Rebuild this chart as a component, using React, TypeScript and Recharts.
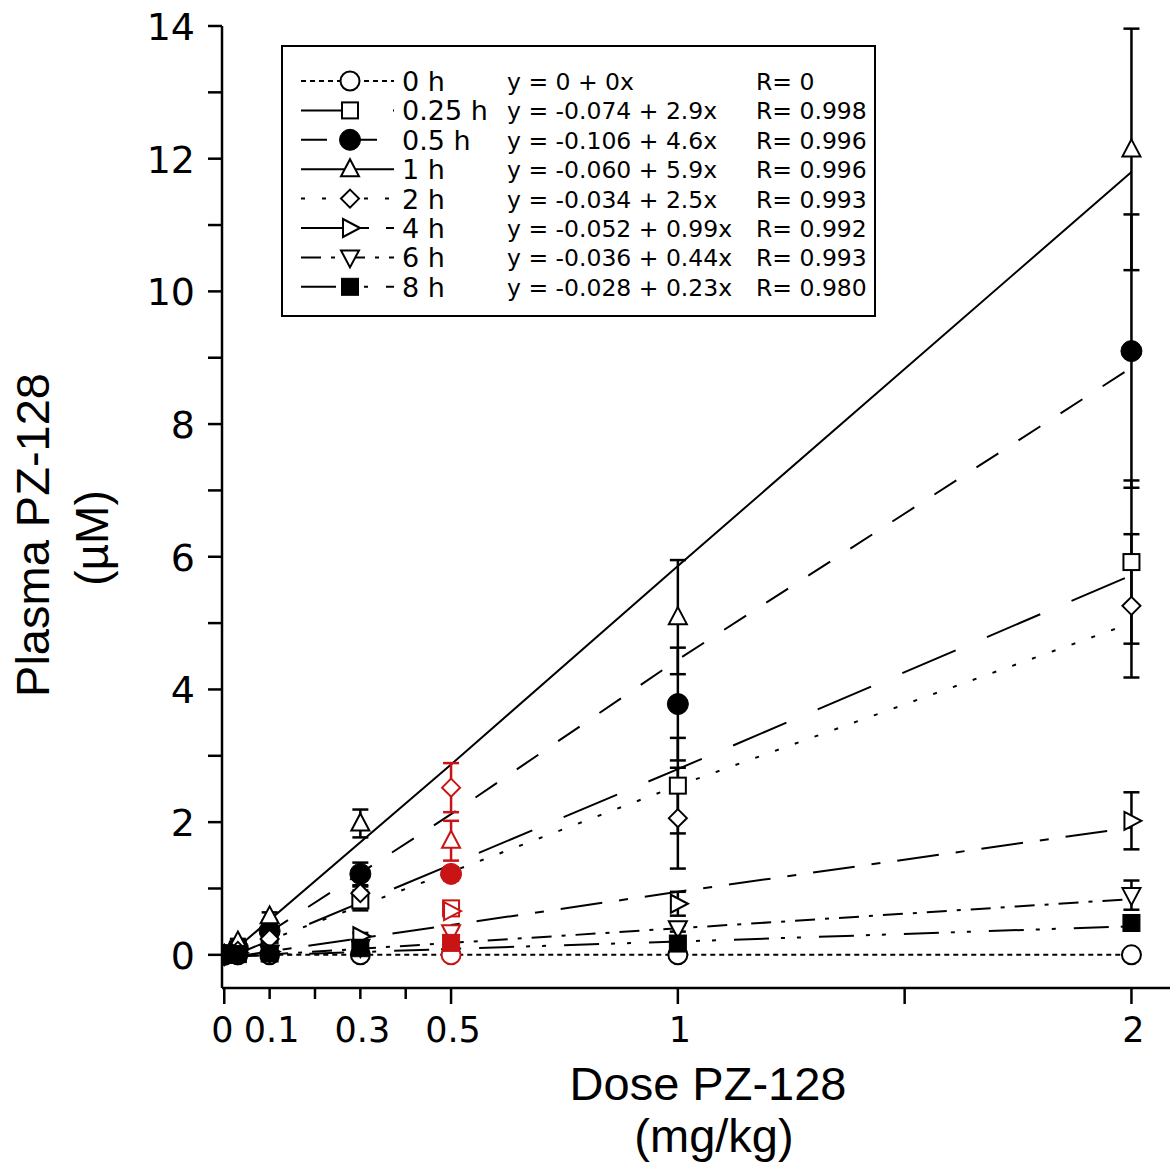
import React from "react";
import { ComposedChart, Line, Scatter, XAxis, YAxis, ErrorBar } from "recharts";

// doses (mg/kg) where plasma levels were measured
const doses = [0, 0.03, 0.1, 0.3, 0.5, 1, 2];
const fitDoses = [0, 0.5, 1, 2];

const timeLabels = ["0 h", "0.25 h", "0.5 h", "1 h", "2 h", "4 h", "6 h", "8 h"];
const equations = [
  "y = 0 + 0x",
  "y = -0.074 + 2.9x",
  "y = -0.106 + 4.6x",
  "y = -0.060 + 5.9x",
  "y = -0.034 + 2.5x",
  "y = -0.052 + 0.99x",
  "y = -0.036 + 0.44x",
  "y = -0.028 + 0.23x",
];
const rValues = ["R= 0", "R= 0.998", "R= 0.996", "R= 0.996", "R= 0.993", "R= 0.992", "R= 0.993", "R= 0.980"];

// mean plasma PZ-128 (uM) per time point
const mean0h = [0, 0, 0, 0, 0, 0, 0];
const mean025h = [0, 0.08, 0.3, 0.82, 0.7, 2.55, 5.92];
const mean05h = [0, 0.1, 0.36, 1.22, 1.22, 3.78, 9.1];
const mean1h = [0, 0.2, 0.58, 1.98, 1.72, 5.09, 12.14];
const mean2h = [0, 0.06, 0.24, 0.93, 2.52, 2.06, 5.26];
const mean4h = [0, 0.03, 0.05, 0.28, 0.66, 0.77, 2.02];
const mean6h = [0, 0.02, 0.03, 0.12, 0.34, 0.4, 0.9];
const mean8h = [0, 0.01, 0.02, 0.1, 0.18, 0.17, 0.48];

// error (+/-)
const err0h = [0, 0, 0, 0, 0, 0, 0];
const err025h = [0, 0.02, 0.05, 0.15, 0.1, 0.72, 1.23];
const err05h = [0, 0.03, 0.06, 0.17, 0.1, 0.85, 2.06];
const err1h = [0, 0.04, 0.06, 0.21, 0.3, 0.86, 1.82];
const err2h = [0, 0.02, 0.04, 0.1, 0.37, 0.76, 1.08];
const err4h = [0, 0, 0.02, 0.05, 0.05, 0.18, 0.43];
const err6h = [0, 0, 0, 0.03, 0.05, 0.05, 0.22];
const err8h = [0, 0, 0, 0.02, 0.05, 0.03, 0.06];

// fitted line values at fitDoses
const fit0h = [0, 0, 0, 0];
const fit025h = [-0.07, 1.36, 2.8, 5.72];
const fit05h = [-0.1, 2.12, 4.45, 8.85];
const fit1h = [-0.06, 2.87, 5.86, 11.8];
const fit2h = [-0.03, 1.25, 2.55, 5.0];
const fit4h = [-0.05, 0.45, 0.95, 1.92];
const fit6h = [-0.04, 0.18, 0.4, 0.84];
const fit8h = [-0.03, 0.09, 0.2, 0.43];

const xTicks = [0, 0.1, 0.2, 0.3, 0.4, 0.5, 1, 1.5, 2];
const xTickLabels = ["0", "0.1", "", "0.3", "", "0.5", "1", "", "2"];
const yTicks = [0, 1, 2, 3, 4, 5, 6, 7, 8, 9, 10, 11, 12, 13, 14];

const means = [mean0h, mean025h, mean05h, mean1h, mean2h, mean4h, mean6h, mean8h];
const errs = [err0h, err025h, err05h, err1h, err2h, err4h, err6h, err8h];
const fits = [fit0h, fit025h, fit05h, fit1h, fit2h, fit4h, fit6h, fit8h];

const markers = ["circle", "square", "dot", "triUp", "diamond", "triRight", "triDown", "block"];
const dashes = ["5 4", "58 34", "26 24", "", "4 17", "42 17 9 17", "20 10 4 10", "35 12 4 12 4 18"];

const RED = "#c81414";
const RED_DOSE = 0.5;
const FONT = "'DejaVu Sans', Verdana, sans-serif";
const TITLE_FONT = "'Liberation Sans', Arial, sans-serif";

const Marker = ({ cx, cy, kind, color }: { cx: number; cy: number; kind: string; color: string }) => {
  const sw = 2;
  switch (kind) {
    case "circle":
      return <circle cx={cx} cy={cy} r={9.5} fill="#fff" stroke={color} strokeWidth={sw} />;
    case "dot":
      return <circle cx={cx} cy={cy} r={10.5} fill={color} stroke={color} strokeWidth={1} />;
    case "square":
      return <rect x={cx - 8} y={cy - 8} width={16} height={16} fill="#fff" stroke={color} strokeWidth={sw} />;
    case "block":
      return <rect x={cx - 8.5} y={cy - 8.5} width={17} height={17} fill={color} stroke={color} strokeWidth={1} />;
    case "triUp":
      return <polygon points={`${cx},${cy - 10} ${cx + 9},${cy + 7} ${cx - 9},${cy + 7}`} fill="#fff" stroke={color} strokeWidth={sw} />;
    case "triDown":
      return <polygon points={`${cx},${cy + 10} ${cx + 9},${cy - 7} ${cx - 9},${cy - 7}`} fill="#fff" stroke={color} strokeWidth={sw} />;
    case "triRight":
      return <polygon points={`${cx + 10},${cy} ${cx - 7},${cy - 9} ${cx - 7},${cy + 9}`} fill="#fff" stroke={color} strokeWidth={sw} />;
    case "diamond":
      return <polygon points={`${cx},${cy - 9} ${cx + 9},${cy} ${cx},${cy + 9} ${cx - 9},${cy}`} fill="#fff" stroke={color} strokeWidth={sw} />;
    default:
      return null;
  }
};

const XTick = (props: any) => {
  const { x, y, payload, index } = props;
  const v = payload.value;
  const major = v === 0 || v === 0.5 || v === 1 || v === 1.5 || v === 2;
  const label = xTickLabels[index];
  return (
    <g>
      <line x1={x} x2={x} y1={y} y2={y + (major ? 16 : 11)} stroke="#000" strokeWidth={2.5} />
      {label ? (
        <text x={v === 0 ? x - 2 : x + 2} y={y + 54} textAnchor="middle" fontSize={35} fontFamily={FONT} fill="#000">
          {label}
        </text>
      ) : null}
    </g>
  );
};

const YTick = (props: any) => {
  const { x, y, payload } = props;
  const v = payload.value;
  return (
    <g>
      <line x1={x} x2={x - 14} y1={y} y2={y} stroke="#000" strokeWidth={2.5} />
      {v % 2 === 0 ? (
        <text x={x - 27} y={y + 14} textAnchor="end" fontSize={38} fontFamily={FONT} fill="#000">
          {v}
        </text>
      ) : null}
    </g>
  );
};

const Legend = () => {
  const rowY = (i: number) => 81 + i * 29.4;
  return (
    <g>
      <rect x={282} y={46} width={593} height={270} fill="#fff" stroke="#000" strokeWidth={2} />
      {timeLabels.map((t, i) => (
        <g key={t}>
          <line
            x1={301}
            x2={394}
            y1={rowY(i)}
            y2={rowY(i)}
            stroke="#000"
            strokeWidth={2}
            strokeDasharray={dashes[i] || undefined}
          />
          <Marker cx={350} cy={rowY(i)} kind={markers[i]} color="#000" />
          <text x={402} y={rowY(i) + 10} fontSize={27} fontFamily={FONT}>
            {t}
          </text>
          <text x={507} y={rowY(i) + 9} fontSize={23.5} fontFamily={FONT}>
            {equations[i]}
          </text>
          <text x={756} y={rowY(i) + 9} fontSize={23.5} fontFamily={FONT}>
            {rValues[i]}
          </text>
        </g>
      ))}
    </g>
  );
};

const App: React.FC = () => {
  const pointData = means.map((m, s) =>
    doses.map((d, i) => ({ x: d, y: m[i], err: errs[s][i] })).filter((p) => p.x !== RED_DOSE)
  );
  const redData = means.map((m, s) =>
    doses.map((d, i) => ({ x: d, y: m[i], err: errs[s][i] })).filter((p) => p.x === RED_DOSE)
  );
  const fitData = fits.map((f) => fitDoses.map((d, i) => ({ x: d, y: f[i] })));

  return (
    <div style={{ position: "absolute", left: 0, top: 0, width: 1170, height: 1167, background: "#fff" }}>
      <ComposedChart width={1170} height={1167} margin={{ top: 26, right: 0, bottom: 0, left: 0 }}>
        <XAxis
          type="number"
          dataKey="x"
          domain={[-0.005, 2.085]}
          allowDataOverflow
          ticks={xTicks}
          interval={0}
          height={179}
          tickSize={0}
          tickMargin={0}
          tickLine={false}
          axisLine={{ stroke: "#000", strokeWidth: 2.5 }}
          tick={<XTick />}
        />
        <YAxis
          type="number"
          dataKey="y"
          domain={[-0.5, 14]}
          allowDataOverflow
          ticks={yTicks}
          interval={0}
          width={222}
          tickSize={0}
          tickMargin={0}
          tickLine={false}
          axisLine={{ stroke: "#000", strokeWidth: 2.5 }}
          tick={<YTick />}
        />
        {fitData.map((fd, s) => (
          <Line
            key={`fit-${s}`}
            data={fd}
            dataKey="y"
            type="linear"
            stroke="#000"
            strokeWidth={2}
            strokeDasharray={dashes[s] || undefined}
            dot={false}
            activeDot={false}
            isAnimationActive={false}
          />
        ))}
        {pointData.map((pd, s) => (
          <Scatter
            key={`pts-${s}`}
            data={pd}
            dataKey="y"
            isAnimationActive={false}
            shape={(p: any) => <Marker cx={p.cx} cy={p.cy} kind={markers[s]} color="#000" />}
          >
            <ErrorBar dataKey="err" direction="y" width={8} stroke="#000" strokeWidth={2.5} />
          </Scatter>
        ))}
        {redData.map((pd, s) => (
          <Scatter
            key={`red-${s}`}
            data={pd}
            dataKey="y"
            isAnimationActive={false}
            shape={(p: any) => <Marker cx={p.cx} cy={p.cy} kind={markers[s]} color={RED} />}
          >
            <ErrorBar dataKey="err" direction="y" width={8} stroke={RED} strokeWidth={2.5} />
          </Scatter>
        ))}
      </ComposedChart>
      <svg
        width={1170}
        height={1167}
        style={{ position: "absolute", left: 0, top: 0, pointerEvents: "none" }}
      >
        <Legend />
        <text x={708} y={1100} textAnchor="middle" fontSize={47} fontFamily={TITLE_FONT}>
          Dose PZ-128
        </text>
        <text x={714} y={1152} textAnchor="middle" fontSize={47} fontFamily={TITLE_FONT}>
          (mg/kg)
        </text>
        <text
          transform="translate(49,535) rotate(-90)"
          textAnchor="middle"
          fontSize={47}
          fontFamily={TITLE_FONT}
        >
          Plasma PZ-128
        </text>
        <text
          transform="translate(108,538) rotate(-90)"
          textAnchor="middle"
          fontSize={46}
          fontFamily={TITLE_FONT}
        >
          (µM)
        </text>
      </svg>
    </div>
  );
};

export default App;
